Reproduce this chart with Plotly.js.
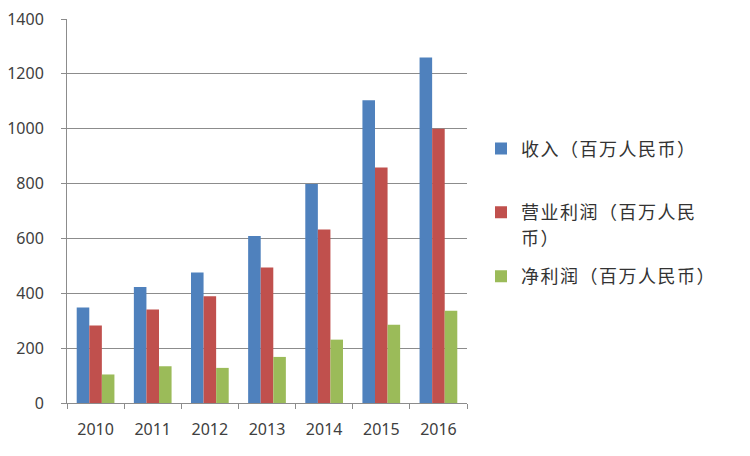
<!DOCTYPE html>
<html>
<head>
<meta charset="utf-8">
<script src="https://cdn.plot.ly/plotly-3.0.1.min.js"></script>
<style>
html,body{margin:0;padding:0;background:#fff;}
#chart{width:750px;height:456px;}
#chart .legendtext{letter-spacing:1.5px;}
</style>
</head>
<body>
<div id="chart"></div>
<script>
const years = ['2010', '2011', '2012', '2013', '2014', '2015', '2016'];
const revenue = [348, 423, 476, 609, 798, 1104, 1260];
const operatingProfit = [283, 341, 389, 494, 633, 859, 1000];
const netProfit = [104, 134, 128, 168, 231, 285, 336];
const seriesNames = ['收入（百万人民币）<br>\u3000', '营业利润（百万人民<br>币）', '净利润（百万人民币）'];
const colors = ['#4F81BD', '#C0504D', '#9BBB59'];
const seriesValues = [revenue, operatingProfit, netProfit];

const traces = seriesValues.map((vals, i) => ({
  type: 'bar',
  x: years,
  y: vals,
  name: seriesNames[i],
  legendgroup: 'g' + i,
  marker: {color: colors[i], line: {width: 0}},
  hoverinfo: 'x+y'
}));

const gridGray = '#8c8c8c';
const layout = {
  width: 750,
  height: 456,
  margin: {l: 67, r: 283, t: 19, b: 53},
  paper_bgcolor: '#ffffff',
  plot_bgcolor: '#ffffff',
  barmode: 'group',
  bargap: 0.34,
  bargroupgap: 0,
  font: {family: '"Noto Sans", "Noto Sans CJK SC", sans-serif', color: '#404040', size: 16},
  xaxis: {
    type: 'category',
    showline: true,
    linecolor: gridGray,
    linewidth: 1,
    ticks: 'outside',
    tickson: 'boundaries',
    ticklen: 5,
    tickcolor: gridGray,
    ticklabelstandoff: 12,
    showgrid: false,
    tickfont: {size: 16, color: '#404040'}
  },
  yaxis: {
    range: [0, 1400],
    dtick: 200,
    showline: true,
    linecolor: gridGray,
    linewidth: 1,
    ticks: 'outside',
    ticklen: 5,
    tickcolor: gridGray,
    ticklabelstandoff: 14,
    showgrid: true,
    gridcolor: gridGray,
    gridwidth: 1,
    zeroline: false,
    tickfont: {size: 16, color: '#404040'}
  },
  showlegend: true,
  legend: {
    x: 1.035,
    xanchor: 'left',
    y: 0.71,
    yanchor: 'top',
    traceorder: 'grouped',
    tracegroupgap: 14,
    valign: 'top',
    font: {family: '"Noto Sans CJK SC", sans-serif', size: 18, color: '#333333'},
    bgcolor: 'rgba(0,0,0,0)'
  }
};

Plotly.newPlot('chart', traces, layout, {displayModeBar: false, staticPlot: true}).then(gd => {
  // widen the wrapped legend line spacing slightly, as in the reference
  gd.querySelectorAll('.legendtext').forEach(t => {
    const lines = t.querySelectorAll('tspan.line');
    lines.forEach((ln, k) => { if (k > 0) ln.setAttribute('dy', '1.45em'); });
  });
});
</script>
</body>
</html>
